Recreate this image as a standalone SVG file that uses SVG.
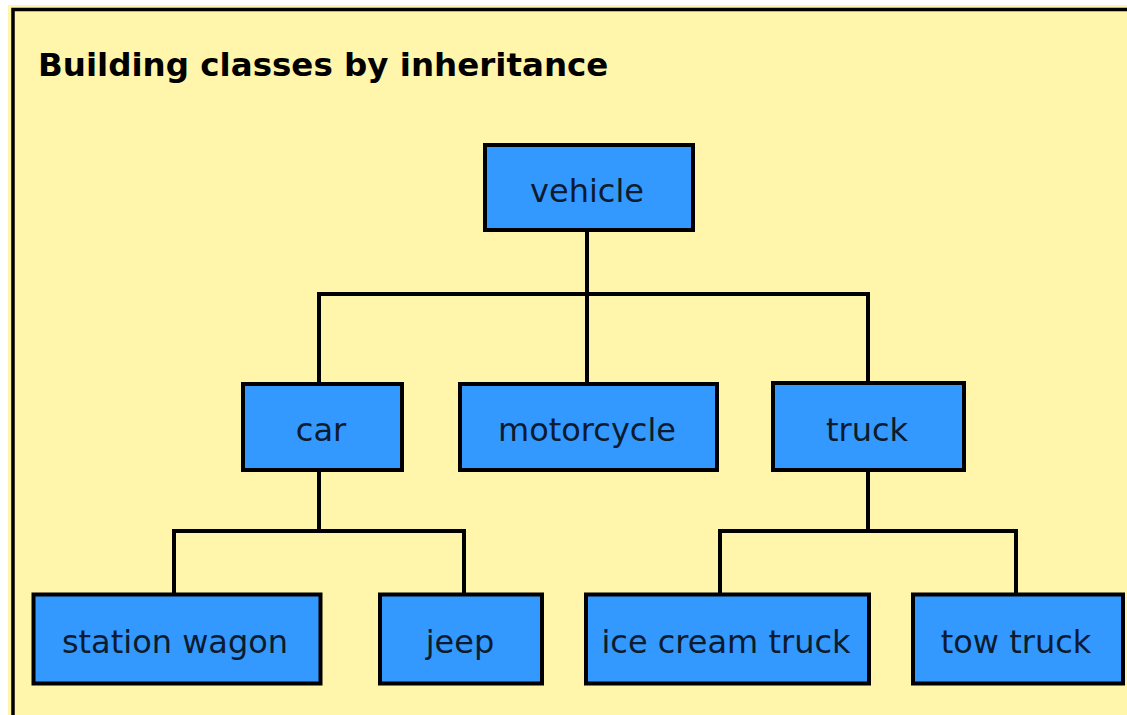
<svg xmlns="http://www.w3.org/2000/svg" width="1127" height="715" viewBox="0 0 1127 715">
  <style>
    .node rect { fill: #3399FF; stroke: #000; stroke-width: 4; }
    .node text { font-family: "DejaVu Sans", Verdana, sans-serif; font-size: 32px; fill: #0d1b2e; text-anchor: middle; }
    .conn { fill: none; stroke: #000; stroke-width: 4; }
    .title { font-family: "DejaVu Sans", Verdana, sans-serif; font-size: 32.5px; font-weight: bold; fill: #000; }
  </style>
  <rect x="0" y="0" width="1127" height="715" fill="#ffffff"/>
  <rect x="8" y="5" width="1130" height="720" fill="#FFF5AB"/>
  <rect x="13" y="9.5" width="1200" height="800" fill="none" stroke="#000" stroke-width="3.5"/>
  <text class="title" x="38" y="76">Building classes by inheritance</text>

  <g id="connectors" class="conn">
    <path d="M587 232 V382"/>
    <path d="M319 382 V294 H868 V382"/>
    <path d="M319 472 V531"/>
    <path d="M174 593 V531 H464 V593"/>
    <path d="M868 472 V531"/>
    <path d="M720 593 V531 H1016 V593"/>
  </g>

  <g id="vehicle" class="node">
    <rect x="485" y="145" width="208" height="85"/>
    <text x="587" y="202">vehicle</text>
  </g>
  <g id="car" class="node">
    <rect x="243" y="384" width="159" height="86"/>
    <text x="321" y="441">car</text>
  </g>
  <g id="motorcycle" class="node">
    <rect x="460" y="384" width="257" height="86"/>
    <text x="587" y="441">motorcycle</text>
  </g>
  <g id="truck" class="node">
    <rect x="773" y="383" width="191" height="87"/>
    <text x="867" y="441">truck</text>
  </g>
  <g id="station-wagon" class="node">
    <rect x="33.5" y="594.5" width="287" height="89"/>
    <text x="175" y="653">station wagon</text>
  </g>
  <g id="jeep" class="node">
    <rect x="380" y="594.5" width="162" height="89"/>
    <text x="460" y="653">jeep</text>
  </g>
  <g id="ice-cream-truck" class="node">
    <rect x="586" y="594.5" width="283" height="89"/>
    <text x="726" y="653">ice cream truck</text>
  </g>
  <g id="tow-truck" class="node">
    <rect x="913" y="594.5" width="210" height="89"/>
    <text x="1016" y="653">tow truck</text>
  </g>
</svg>
